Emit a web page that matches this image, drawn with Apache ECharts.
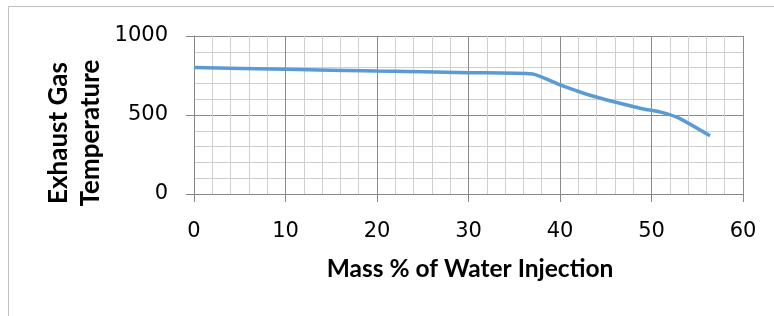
<!DOCTYPE html>
<html>
<head>
<meta charset="utf-8">
<script src="https://cdn.jsdelivr.net/npm/echarts@6/dist/echarts.min.js"></script>
<style>html,body{margin:0;padding:0;background:#fff;}#c{width:774px;height:316px;}</style>
</head>
<body>
<div id="c"></div>
<script>
var waterMass = [0, 10, 20, 30, 37, 40, 43, 46, 49, 51, 53, 56.4];
var exhaustTemp = [800, 790, 778, 768, 760, 690, 630, 582, 540, 518, 480, 368];
var xTitle = 'Mass % of Water Injection';
var yTitle = 'Exhaust Gas\nTemperature';

var chart = echarts.init(document.getElementById('c'), null, {renderer: 'canvas'});
var pts = waterMass.map(function (x, i) { return [x, exhaustTemp[i]]; });
var tickFont = {color: '#000', fontFamily: 'DejaVu Sans', fontSize: 21};
chart.setOption({
  animation: false,
  backgroundColor: '#fff',
  grid: {left: 194, right: 31, top: 36, bottom: 122},
  xAxis: {
    type: 'value', min: 0, max: 60, interval: 10,
    axisLine: {show: true, lineStyle: {color: '#868686', width: 1}},
    axisTick: {show: true, length: 8, lineStyle: {color: '#868686'}},
    axisLabel: Object.assign({margin: 27, formatter: function (v) { return String(v); }}, tickFont),
    splitLine: {show: true, lineStyle: {color: '#8a8a8a', width: 1}},
    minorTick: {show: false, splitNumber: 5},
    minorSplitLine: {show: true, lineStyle: {color: '#cfcfcf', width: 1}}
  },
  yAxis: {
    type: 'value', min: 0, max: 1000, interval: 500,
    axisLine: {show: true, lineStyle: {color: '#868686', width: 1}},
    axisTick: {show: true, length: 8, lineStyle: {color: '#868686'}},
    axisLabel: Object.assign({margin: 26, formatter: function (v) { return String(v); }}, tickFont),
    splitLine: {show: true, lineStyle: {color: '#8a8a8a', width: 1}},
    minorTick: {show: false, splitNumber: 5},
    minorSplitLine: {show: true, lineStyle: {color: '#cfcfcf', width: 1}}
  },
  graphic: [
    {type: 'rect', shape: {x: 8.5, y: 6.5, width: 900, height: 500}, style: {fill: 'none', stroke: '#c0c0c0', lineWidth: 1}, silent: true, z: -1},
    {type: 'text', x: 470, y: 269, style: {text: xTitle, fontFamily: 'Lato', fontWeight: 'bold', fontSize: 24.5, fill: '#000', textAlign: 'center', textVerticalAlign: 'middle'}},
    {type: 'text', x: 75, y: 133, rotation: Math.PI / 2, style: {text: yTitle, fontFamily: 'Lato', fontWeight: 'bold', fontSize: 26, lineHeight: 32, fill: '#000', textAlign: 'center', textVerticalAlign: 'middle'}}
  ],
  series: [{
    type: 'line', data: pts, showSymbol: false, symbol: 'none', smooth: 0.2,
    lineStyle: {color: '#5B9BD5', width: 3.5}
  }]
});
</script>
</body>
</html>
